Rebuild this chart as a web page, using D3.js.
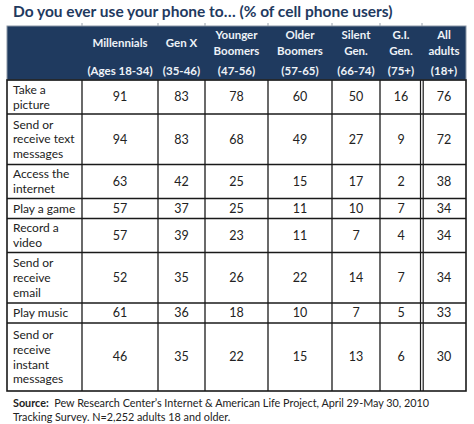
<!DOCTYPE html>
<html><head><meta charset="utf-8">
<script src="https://cdn.jsdelivr.net/npm/d3@7"></script>
<style>body{margin:0;background:#fff}svg{display:block}</style>
</head><body>
<script>
// ---- data ----
const title = "Do you ever use your phone to\u2026 (% of cell phone users)";
const generations = ["Millennials", "Gen X", "Younger\nBoomers", "Older\nBoomers", "Silent\nGen.", "G.I.\nGen.", "All\nadults"];
const ageRanges = ["(Ages 18-34)", "(35-46)", "(47-56)", "(57-65)", "(66-74)", "(75+)", "(18+)"];
const activities = ["Take a\npicture", "Send or\nreceive text\nmessages", "Access the\ninternet", "Play a game", "Record a\nvideo", "Send or\nreceive\nemail", "Play music", "Send or\nreceive\ninstant\nmessages"];
const millennials   = [91, 94, 63, 57, 57, 52, 61, 46];
const genX          = [83, 83, 42, 37, 39, 35, 36, 35];
const youngerBoomers= [78, 68, 25, 25, 23, 26, 18, 22];
const olderBoomers  = [60, 49, 15, 11, 11, 22, 10, 15];
const silentGen     = [50, 27, 17, 10, 7, 14, 7, 13];
const giGen         = [16, 9, 2, 7, 4, 7, 5, 6];
const allAdults     = [76, 72, 38, 34, 34, 34, 33, 30];
const series = [millennials, genX, youngerBoomers, olderBoomers, silentGen, giGen, allAdults];
const sourceLabel = "Source:";
const sourceText1 = "  Pew Research Center\u2019s Internet & American Life Project, April 29-May 30, 2010";
const sourceText2 = "Tracking Survey. N=2,252 adults 18 and older.";

// ---- layout ----
const W = 474, H = 424;
const FONT = "Lato, 'Open Sans', sans-serif";
const navy = "#1f3a5f";
const svg = d3.select("body").append("svg").attr("width", W).attr("height", H);

const tableLeft = 7, tableRight = 466, headTop = 26, headBottom = 80;
const colWidths = [75, 76, 47, 63, 64, 48, 42, 44]; // label col + data cols
const colEdges = d3.cumsum([tableLeft, ...colWidths]);
const xCol = d3.scaleOrdinal().domain(["label", ...generations]).range(colEdges.slice(0, -1));
const colW = d3.scaleOrdinal().domain(["label", ...generations]).range(colWidths);

const lineH = 14.6;
const rowHeightByLines = {1: 20, 2: 34, 3: 50.5, 4: 68};
const rowHeights = activities.map(a => rowHeightByLines[a.split("\n").length]);
const rowEdges = d3.cumsum([headBottom, ...rowHeights]);
const yRow = d3.scaleOrdinal().domain(activities).range(rowEdges.slice(0, -1));
const rowH = d3.scaleOrdinal().domain(activities).range(rowHeights);

// title
svg.append("text").attr("x", 13).attr("y", 17)
  .attr("font-family", FONT).attr("font-weight", "bold").attr("font-size", 15.5)
  .attr("fill", navy).text(title);

// header background
svg.append("rect").attr("x", tableLeft).attr("y", headTop)
  .attr("width", tableRight - tableLeft).attr("height", headBottom - headTop)
  .attr("fill", navy).attr("stroke", "#8a96a6").attr("stroke-width", 1);
// small ticks above header
svg.selectAll("line.tick").data(colEdges.slice(1, -1)).join("line")
  .attr("x1", d => d).attr("x2", d => d).attr("y1", 23).attr("y2", 26)
  .attr("stroke", "#9aa3ae").attr("stroke-width", 1);

// header text
const hdr = svg.append("g").attr("font-family", FONT).attr("font-weight", "bold")
  .attr("font-size", 11.5).attr("fill", "#eef2f7").attr("text-anchor", "middle");
generations.forEach((g, i) => {
  const lines = g.split("\n");
  const cx = xCol(g) + colW(g) / 2;
  const t = hdr.append("text").attr("x", cx);
  const y0 = 43 - (lines.length - 1) * 15.5 / 2;
  lines.forEach((l, j) => t.append("tspan").attr("x", cx).attr("y", y0 + j * 15.5).attr("dy", "0.35em").text(l));
  hdr.append("text").attr("x", cx).attr("y", 71).attr("dy", "0.35em").text(ageRanges[i]);
});

// body
const body = svg.append("g").attr("font-family", FONT).attr("font-size", 12).attr("fill", "#222");
activities.forEach((a, r) => {
  const lines = a.split("\n");
  const cy = yRow(a) + rowH(a) / 2;
  lines.forEach((l, j) => body.append("text").attr("x", 13)
    .attr("y", cy - (lines.length - 1) * lineH / 2 + j * lineH).attr("dy", "0.35em").text(l));
  generations.forEach((g, c) => {
    body.append("text").attr("x", xCol(g) + colW(g) / 2).attr("y", cy).attr("dy", "0.35em")
      .attr("font-size", 12.5).attr("text-anchor", "middle").text(series[c][r]);
  });
});

// grid lines
const grid = svg.append("g").attr("stroke", "#1a1a1a").attr("stroke-width", 1.3).attr("fill", "none");
rowEdges.slice(1, -1).forEach(y => grid.append("line").attr("x1", tableLeft).attr("x2", tableRight).attr("y1", y).attr("y2", y));
colEdges.slice(1, -1).forEach((x, i) => {
  if (i === 6) {
    [x - 1.5, x + 1.2].forEach(xx => grid.append("line").attr("x1", xx).attr("x2", xx).attr("y1", headBottom).attr("y2", rowEdges[rowEdges.length - 1]).attr("stroke-width", 1.2));
  } else {
    grid.append("line").attr("x1", x).attr("x2", x).attr("y1", headBottom).attr("y2", rowEdges[rowEdges.length - 1]);
  }
});
grid.append("rect").attr("x", tableLeft).attr("y", headBottom)
  .attr("width", tableRight - tableLeft).attr("height", rowEdges[rowEdges.length - 1] - headBottom)
  .attr("stroke-width", 1.6);

// source
const src = svg.append("g").attr("font-family", FONT).attr("font-size", 10.8).attr("fill", "#222");
const s1 = src.append("text").attr("x", 13).attr("y", 403).attr("dy", "0.35em");
s1.append("tspan").attr("font-weight", "bold").text(sourceLabel);
s1.append("tspan").attr("xml:space", "preserve").style("white-space", "pre").text(sourceText1);
src.append("text").attr("x", 13).attr("y", 417).attr("dy", "0.35em").text(sourceText2);
</script>
</body></html>
